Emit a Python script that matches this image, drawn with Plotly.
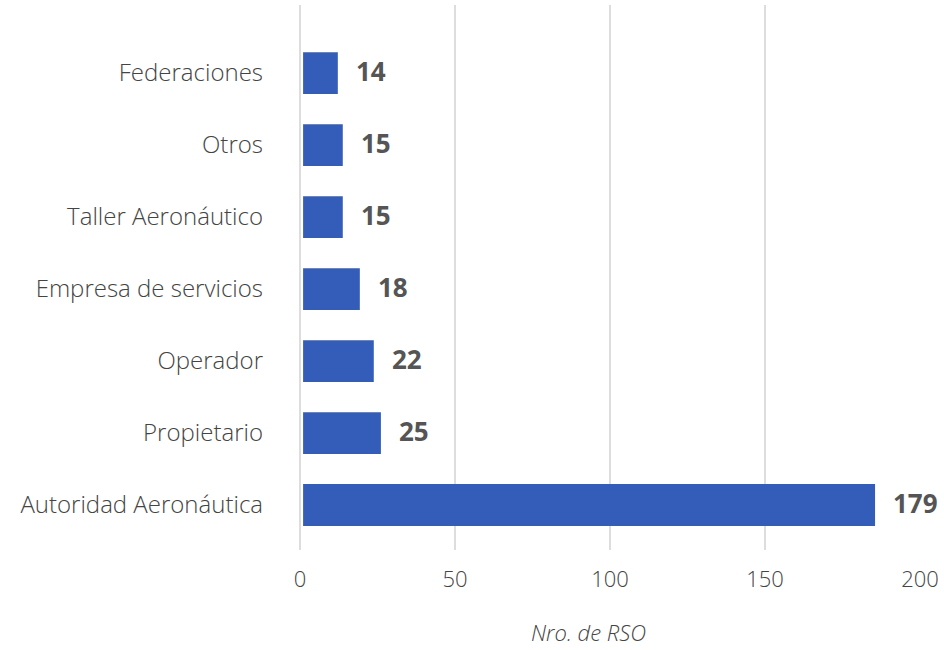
import plotly.graph_objects as go

categories = ["Autoridad Aeronáutica", "Propietario", "Operador", "Empresa de servicios",
              "Taller Aeronáutico", "Otros", "Federaciones"]
bar_lengths = [184.5, 25.1, 22.8, 18.3, 12.8, 12.8, 11.2]
labels = ["179", "25", "22", "18", "15", "15", "14"]
x_ticks = [0, 50, 100, 150, 200]
x_title = "Nro. de RSO"

FONT = "Open Sans"

fig = go.Figure()
fig.add_trace(go.Bar(
    y=categories, x=bar_lengths, orientation="h", base=1,
    marker=dict(color="#335DB8", line=dict(width=0)),
    width=0.58, hoverinfo="skip",
))

for c, v, t in zip(categories, bar_lengths, labels):
    fig.add_annotation(x=v + 1, y=c, text=f"<b>{t}</b>", showarrow=False,
                       xanchor="left", xshift=16, yshift=2,
                       font=dict(family=FONT, size=26, color="#555555"))

fig.add_annotation(xref="paper", yref="paper", x=0.466, y=-0.15,
                   xanchor="center", yanchor="middle", showarrow=False,
                   text=f"<i>{x_title}</i>",
                   font=dict(family=FONT, size=22, color="#444444", weight=300))

fig.update_layout(
    width=944, height=650,
    margin=dict(l=300, r=21, t=5, b=100),
    plot_bgcolor="white", paper_bgcolor="white",
    showlegend=False,
    font=dict(family=FONT, color="#444444", size=22),
    xaxis=dict(range=[0, 200], tickvals=x_ticks, showgrid=True, gridcolor="#DDDDDD",
               gridwidth=2, zeroline=True, zerolinecolor="#DDDDDD", zerolinewidth=2,
               showline=False, ticks="", ticklabelstandoff=14,
               tickfont=dict(size=22, color="#444444", weight=300)),
    yaxis=dict(range=[-0.625, 6.945], showgrid=False, zeroline=False, showline=False,
               ticks="", ticklabelstandoff=36,
               tickfont=dict(size=24, color="#444444", weight=300)),
)

fig.write_html("out.html", post_script="document.body.style.margin='0';",
               config=dict(displayModeBar=False))
